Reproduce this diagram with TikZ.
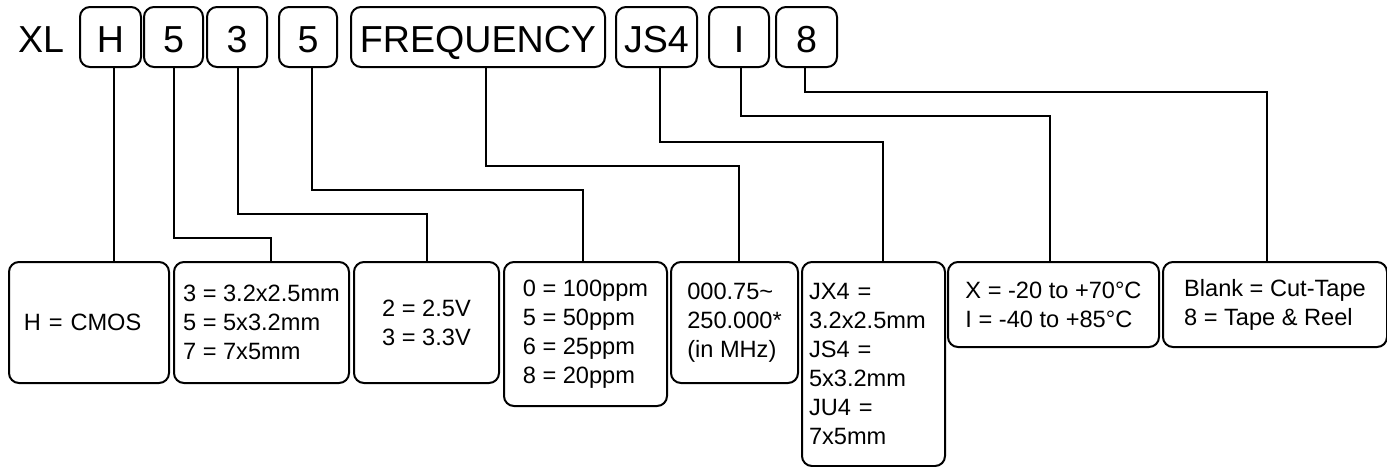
\documentclass[tikz,border=0pt]{standalone}
\usepackage{fontspec}
\setmainfont{Liberation Sans}
\usepackage{tikz}
\usetikzlibrary{positioning, calc}

\begin{document}
\begin{tikzpicture}[
        x=0.5pt, y=-0.5pt,
        code/.style={
            draw,
            line width=1pt,
            rounded corners=5pt,
            inner sep=0pt,
            minimum height=30pt,
            text height=15pt,
            text depth=0pt,
            font=\fontsize{18.8}{22}\selectfont
        },
        desc/.style={
            draw,
            line width=1pt,
            rounded corners=5pt,
            anchor=north west,
            align=left,
            inner sep=0pt,
            font=\fontsize{11.8}{14.5}\selectfont
        },
        link/.style={
            line width=1pt
        }
    ]

    \useasboundingbox (0,0) rectangle (1387,466);

    % Part number
    \node[code, draw=none] (prefix) at (41,37) {XL};
    \node[code, minimum width=30.5pt] (cOut)  at (110.5,37) {H};
    \node[code, minimum width=29.5pt] (cSize) at (173.5,37) {5};
    \node[code, minimum width=30pt]   (cVolt) at (237,37)   {3};
    \node[code, minimum width=29pt]   (cStab) at (308,37)   {5};
    \node[code, minimum width=127pt]  (cFreq) at (478,37)   {FREQUENCY};
    \node[code, minimum width=40.5pt] (cPkg)  at (656.5,37) {JS4};
    \node[code, minimum width=30pt]   (cTemp) at (739,37)   {I};
    \node[code, minimum width=30.5pt] (cPack) at (806.5,37) {8};

    % Option boxes
    \node[desc, minimum width=80pt, minimum height=60.5pt, text width=65pt] (dOut) at (8,261) {
        H = CMOS
    };
    \node[desc, minimum width=87.5pt, minimum height=60.5pt] (dSize) at (173,261) {
        3 = 3.2x2.5mm\\
        5 = 5x3.2mm\\
        7 = 7x5mm
    };
    \node[desc, minimum width=72.5pt, minimum height=60.5pt] (dVolt) at (353,261) {
        2 = 2.5V\\
        3 = 3.3V
    };
    \node[desc, minimum width=81.5pt, minimum height=72pt] (dStab) at (503,261) {
        0 = 100ppm\\
        5 = 50ppm\\
        6 = 25ppm\\
        8 = 20ppm
    };
    \node[desc, minimum width=63.5pt, minimum height=60.5pt] (dFreq) at (670,261) {
        000.75\textasciitilde\\
        250.000*\\
        (in MHz)
    };
    \node[desc, minimum width=71.5pt, minimum height=102pt, text width=64.5pt] (dPkg) at (801,261) {
        JX4 =\\
        3.2x2.5mm\\
        JS4 =\\
        5x3.2mm\\
        JU4 =\\
        7x5mm
    };
    \node[desc, minimum width=105.5pt, minimum height=42.5pt] (dTemp) at (947,261) {
        X = -20 to +70°C\\
        I = -40 to +85°C
    };
    \node[desc, minimum width=112pt, minimum height=42.5pt] (dPack) at (1162,261) {
        Blank = Cut-Tape\\
        8 = Tape \& Reel
    };

    % Connectors
    \draw[link] ([xshift=1.75pt]cOut.south) -- ([xshift=1.75pt]cOut.south |- dOut.north);
    \draw[link] (cSize.south) -- ++(0,170) -| ([xshift=4.75pt]dSize.north);
    \draw[link] ([xshift=0.5pt]cVolt.south) -- ++(0,146) -| (dVolt.north);
    \draw[link] ([xshift=2pt]cStab.south) -- ++(0,122) -| ([xshift=-1.25pt]dStab.north);
    \draw[link] ([xshift=4pt]cFreq.south) -- ++(0,98) -| ([xshift=2.25pt]dFreq.north);
    \draw[link] ([xshift=1.75pt]cPkg.south) -- ++(0,74) -| ([xshift=4.75pt]dPkg.north);
    \draw[link] ([xshift=1pt]cTemp.south) -- ++(0,48) -| ([xshift=-1.75pt]dTemp.north);
    \draw[link] ([xshift=-0.75pt]cPack.south) -- ++(0,24) -| ([xshift=-4pt]dPack.north);

\end{tikzpicture}
\end{document}
